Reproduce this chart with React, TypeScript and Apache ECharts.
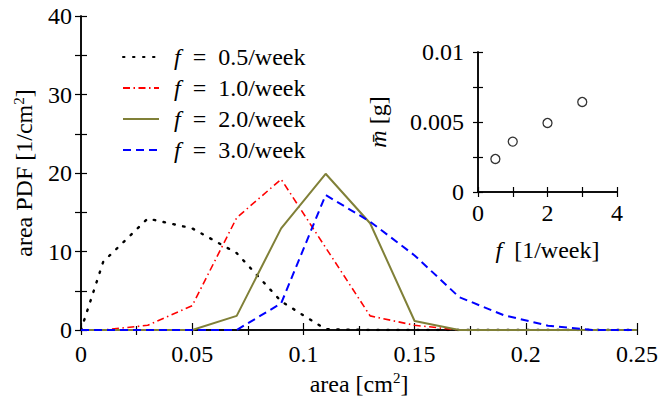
import React, { useEffect, useRef } from "react";
import * as echarts from "echarts";

const AREA = [0, 0.01, 0.03, 0.05, 0.07, 0.09, 0.11, 0.13, 0.15, 0.17, 0.19, 0.21, 0.23, 0.25];
const PDF_05 = [0, 8.7, 14.2, 12.95, 9.8, 3.65, 0.1, 0, 0, 0, 0, 0, 0, 0];
const PDF_10 = [0, 0, 0.6, 3.1, 14.3, 19.2, 10.5, 1.8, 0.6, 0, 0, 0, 0, 0];
const PDF_20 = [0, 0, 0, 0, 1.8, 12.95, 19.9, 13.6, 1.15, 0, 0, 0, 0, 0];
const PDF_30 = [0, 0, 0, 0, 0, 3.4, 17.2, 13.8, 9.5, 4.2, 1.9, 0.55, 0, 0];
const SERIES_NAMES = ["f = 0.5/week", "f = 1.0/week", "f = 2.0/week", "f = 3.0/week"];

const FREQ = [0.5, 1, 2, 3];
const MEAN_MASS = [0.00236, 0.0036, 0.00493, 0.00643];

const FONT = "Liberation Serif";
const FS = 24;

export default function App() {
  const ref = useRef<HTMLDivElement>(null);
  useEffect(() => {
    if (!ref.current) return;
    const chart = echarts.init(ref.current, undefined, { renderer: "svg" });
    const pairs = (ys: number[]) => AREA.map((x, i) => [x, ys[i]]);
    const tickStyle = { color: "#000", width: 1.2 };
    const lineAx = { show: true, lineStyle: { color: "#000", width: 1.5 } };
    const labelStyle = { color: "#000", fontFamily: FONT, fontSize: FS };
    const sup = { fontFamily: FONT, fontSize: 15, color: "#000", verticalAlign: "top" as const, padding: [0, 0, 11, 0] };
    const it = { fontFamily: FONT, fontSize: FS, color: "#000", fontStyle: "italic" as const };
    const eq = { fontFamily: FONT, fontSize: FS, color: "#000", padding: [0, 6, 0, 6] };

    const option: any = {
      animation: false,
      backgroundColor: "#fff",
      textStyle: { fontFamily: FONT },
      grid: [
        { left: 81, top: 16, width: 557, height: 314 },
        { left: 478, top: 52, width: 139, height: 140 },
      ],
      legend: {
        orient: "vertical",
        left: 122,
        top: 45,
        padding: 0,
        itemWidth: 36,
        itemHeight: 14,
        itemGap: 7,
        data: SERIES_NAMES,
        itemStyle: { opacity: 0, borderWidth: 0 },
        formatter: (n: string) => "{i|f}{e| = }" + n.slice(4),
        textStyle: {
          fontFamily: FONT,
          fontSize: FS,
          lineHeight: 24,
          color: "#000",
          padding: [0, 0, 0, 10],
          rich: { i: it, e: eq },
        },
      },
      xAxis: [
        {
          type: "value", gridIndex: 0, position: "bottom", min: 0, max: 0.25, interval: 0.05,
          axisLine: lineAx,
          axisTick: { inside: true, length: 7, lineStyle: tickStyle },
          minorTick: { show: true, splitNumber: 2, length: 4, lineStyle: tickStyle },
          splitLine: { show: false },
          axisLabel: { ...labelStyle, margin: 12, formatter: (v: number) => String(+v.toFixed(2)) },
          name: "area [cm{sup|2}]",
          nameLocation: "middle",
          nameGap: 40,
          nameTextStyle: { ...labelStyle, rich: { sup } },
        },
        {
          type: "value", gridIndex: 0, position: "top", min: 0, max: 0.25, interval: 0.025,
          axisLine: lineAx,
          axisTick: { inside: true, length: 5, lineStyle: tickStyle },
          splitLine: { show: false },
          axisLabel: { show: false },
        },
        {
          type: "value", gridIndex: 1, position: "bottom", min: 0, max: 4, interval: 1,
          axisLine: lineAx,
          axisTick: { inside: true, length: 5, lineStyle: tickStyle },
          splitLine: { show: false },
          axisLabel: { ...labelStyle, margin: 9, formatter: (v: number) => (v % 2 === 0 ? String(v) : "") },
          name: "{i|f}  [1/week]",
          nameLocation: "middle",
          nameGap: 46,
          nameTextStyle: { ...labelStyle, rich: { i: it } },
        },
        {
          type: "value", gridIndex: 1, position: "top", min: 0, max: 4, interval: 1,
          axisLine: lineAx,
          axisTick: { inside: true, length: 5, lineStyle: tickStyle },
          splitLine: { show: false },
          axisLabel: { show: false },
        },
      ],
      yAxis: [
        {
          type: "value", gridIndex: 0, position: "left", min: 0, max: 40, interval: 5,
          axisLine: lineAx,
          axisTick: { inside: true, length: 6, lineStyle: tickStyle },
          splitLine: { show: false },
          axisLabel: { ...labelStyle, margin: 9, formatter: (v: number) => (v % 10 === 0 ? String(v) : "") },
          name: "area PDF [1/cm{sup|2}]",
          nameLocation: "middle",
          nameGap: 44,
          nameTextStyle: { ...labelStyle, rich: { sup } },
        },
        {
          type: "value", gridIndex: 0, position: "right", min: 0, max: 40, interval: 5,
          axisLine: lineAx,
          axisTick: { inside: true, length: 6, lineStyle: tickStyle },
          splitLine: { show: false },
          axisLabel: { show: false },
        },
        {
          type: "value", gridIndex: 1, position: "left", min: 0, max: 0.01, interval: 0.0025,
          axisLine: lineAx,
          axisTick: { inside: true, length: 5, lineStyle: tickStyle },
          splitLine: { show: false },
          axisLabel: {
            ...labelStyle, margin: 14,
            formatter: (v: number) => {
              const k = v / 0.005;
              return Math.abs(k - Math.round(k)) < 1e-6 ? String(+v.toFixed(4)) : "";
            },
          },
          name: "{i|m\u0304} [g]",
          nameLocation: "middle",
          nameGap: 88,
          nameTextStyle: { ...labelStyle, rich: { i: it } },
        },
        {
          type: "value", gridIndex: 1, position: "right", min: 0, max: 0.01, interval: 0.0025,
          axisLine: lineAx,
          axisTick: { inside: true, length: 5, lineStyle: tickStyle },
          splitLine: { show: false },
          axisLabel: { show: false },
        },
      ],
      series: [
        {
          name: SERIES_NAMES[0], type: "line", xAxisIndex: 0, yAxisIndex: 0, symbol: "none",
          data: pairs(PDF_05), color: "#000",
          lineStyle: { color: "#000", width: 2.4, type: [1.5, 8.5], cap: "round" },
          z: 3,
        },
        {
          name: SERIES_NAMES[1], type: "line", xAxisIndex: 0, yAxisIndex: 0, symbol: "none",
          data: pairs(PDF_10), color: "#ff0000",
          lineStyle: { color: "#ff0000", width: 1.6, type: [7, 3.5, 1.5, 3.5] },
          z: 4,
        },
        {
          name: SERIES_NAMES[2], type: "line", xAxisIndex: 0, yAxisIndex: 0, symbol: "none",
          data: pairs(PDF_20), color: "#808038",
          lineStyle: { color: "#808038", width: 2 },
          z: 5,
        },
        {
          name: SERIES_NAMES[3], type: "line", xAxisIndex: 0, yAxisIndex: 0, symbol: "none",
          data: pairs(PDF_30), color: "#0000ff",
          lineStyle: { color: "#0000ff", width: 2, type: [8, 5] },
          z: 6,
        },
        {
          name: "mean", type: "scatter", xAxisIndex: 2, yAxisIndex: 2,
          data: FREQ.map((f, i) => [f, MEAN_MASS[i]]),
          symbol: "circle", symbolSize: 9,
          itemStyle: { color: "#fff", borderColor: "#000", borderWidth: 1.3 },
        },
      ],
    };
    chart.setOption(option);
    return () => chart.dispose();
  }, []);
  return <div ref={ref} style={{ position: "absolute", left: 0, top: 0, width: 661, height: 403 }} />;
}
